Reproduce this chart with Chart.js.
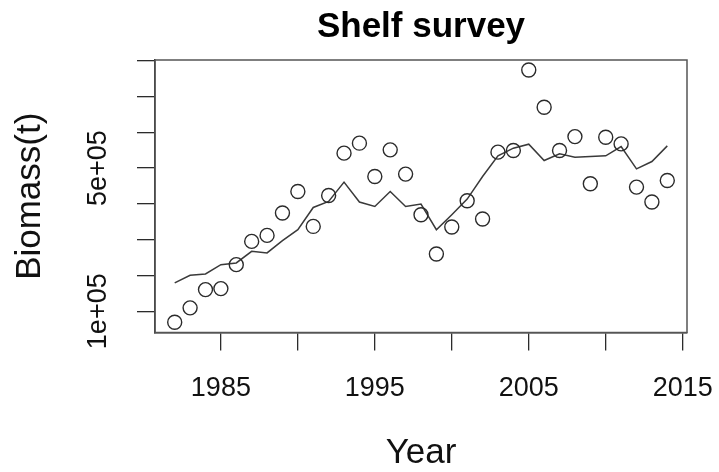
<!DOCTYPE html>
<html>
<head>
<meta charset="utf-8">
<script src="https://cdn.jsdelivr.net/npm/chart.js@4.4.1/dist/chart.umd.min.js"></script>
<style>
  html, body { margin: 0; padding: 0; background: #fff; }
  #wrap { width: 719px; height: 472px; }
</style>
</head>
<body>
<div id="wrap"><canvas id="survey-chart" width="719" height="472"></canvas></div>
<script>
// survey years and observed biomass (circles)
const years = [1982, 1983, 1984, 1985, 1986, 1987, 1988, 1989, 1990, 1991, 1992,
               1993, 1994, 1995, 1996, 1997, 1998, 1999, 2000, 2001, 2002, 2003,
               2004, 2005, 2006, 2007, 2008, 2009, 2010, 2011, 2012, 2013, 2014];
const observed = [69300, 109500, 160500, 163300, 230200, 295200, 311900, 374400, 434600, 337000, 423500,
                  541700, 569600, 476500, 550900, 483200, 369700, 260100, 335400, 408700, 357700, 544500,
                  549000, 774000, 670000, 549000, 588000, 456100, 586300, 567600, 446900, 405100, 465300];
// model fit (line)
const fitted = [179200, 200400, 204300, 230200, 235000, 267300, 262900, 297200, 327800, 390000, 406700,
                460800, 405100, 392800, 434600, 392800, 399500, 327800, 369700, 413400, 476500, 534200,
                555600, 566800, 521100, 539800, 530600, 532200, 534200, 560100, 497900, 518300, 562100];

const xTicks = [1985, 1990, 1995, 2000, 2005, 2010, 2015];
const xTickLabels = ['1985', '', '1995', '', '2005', '', '2015'];
const yTicks = [100000, 200000, 300000, 400000, 500000, 600000, 700000, 800000];
const yTickLabels = ['1e+05', '', '', '', '5e+05', '', '', ''];

const FONT = 'Liberation Sans, Arial, Helvetica, sans-serif';
const INK = '#2b2b2b';

const boxPlugin = {
    id: 'plotBox',
    afterDatasetsDraw(chart) {
        const a = chart.chartArea;
        const ctx = chart.ctx;
        ctx.save();
        ctx.strokeStyle = '#555';
        ctx.lineWidth = 1.5;
        ctx.strokeRect(a.left, a.top, a.right - a.left, a.bottom - a.top);
        ctx.restore();
    }
};

// keep the plot region fixed like R's par(mar)
function noScalePadding(scale) {
    scale.paddingLeft = 0;
    scale.paddingRight = 0;
    scale.paddingTop = 0;
    scale.paddingBottom = 0;
}

const surveyChart = new Chart(document.querySelector('#survey-chart'), {
    type: 'scatter',
    data: {
        datasets: [
            {
                label: 'Survey',
                data: years.map((y, i) => ({x: y, y: observed[i]})),
                showLine: false,
                pointStyle: 'circle',
                pointRadius: 7,
                pointHoverRadius: 7,
                pointBorderWidth: 1.4,
                pointBorderColor: INK,
                pointBackgroundColor: 'rgba(0,0,0,0)'
            },
            {
                label: 'Fit',
                data: years.map((y, i) => ({x: y, y: fitted[i]})),
                showLine: true,
                pointRadius: 0,
                borderColor: '#3a3a3a',
                borderWidth: 1.5,
                tension: 0
            }
        ]
    },
    options: {
        responsive: false,
        maintainAspectRatio: false,
        animation: false,
        layout: { padding: { left: 0, right: 32, top: 0, bottom: 0 } },
        plugins: {
            legend: { display: false },
            tooltip: { enabled: false },
            title: {
                display: true,
                fullSize: false,
                text: 'Shelf survey',
                color: '#000',
                font: { family: FONT, size: 35, weight: 'bold', lineHeight: 1 },
                padding: { top: 10, bottom: 15 }
            }
        },
        scales: {
            x: {
                type: 'linear',
                min: 1980.72,
                max: 2015.28,
                afterBuildTicks: (scale) => { scale.ticks = xTicks.map(v => ({value: v})); },
                afterFit: (scale) => { scale.height = 139.5; noScalePadding(scale); },
                ticks: {
                    autoSkip: false,
                    maxRotation: 0,
                    padding: 22,
                    color: '#111',
                    font: { family: FONT, size: 27 },
                    callback: (v) => xTickLabels[xTicks.indexOf(v)] ?? ''
                },
                grid: { drawOnChartArea: false, drawTicks: true, tickLength: 18, color: INK, lineWidth: 1.3 },
                border: { display: true, color: INK, width: 1.5 },
                title: {
                    display: true,
                    text: 'Year',
                    color: '#111',
                    font: { family: FONT, size: 35, lineHeight: 1 },
                    padding: { top: 0, bottom: 1 }
                }
            },
            y: {
                type: 'linear',
                min: 40600,
                max: 802000,
                afterBuildTicks: (scale) => { scale.ticks = yTicks.map(v => ({value: v})); },
                afterFit: (scale) => { scale.width = 155; noScalePadding(scale); },
                ticks: {
                    autoSkip: false,
                    minRotation: 90,
                    maxRotation: 90,
                    crossAlign: 'center',
                    padding: 1,
                    color: '#111',
                    font: { family: FONT, size: 27 },
                    callback: (v) => yTickLabels[yTicks.indexOf(v)] ?? ''
                },
                grid: { drawOnChartArea: false, drawTicks: true, tickLength: 18, color: INK, lineWidth: 1.3 },
                border: { display: true, color: INK, width: 1.5 },
                title: {
                    display: true,
                    text: 'Biomass(t)',
                    color: '#111',
                    font: { family: FONT, size: 35, lineHeight: 1 },
                    padding: { top: 13, bottom: 0 }
                }
            }
        }
    },
    plugins: [boxPlugin]
});
</script>
</body>
</html>
